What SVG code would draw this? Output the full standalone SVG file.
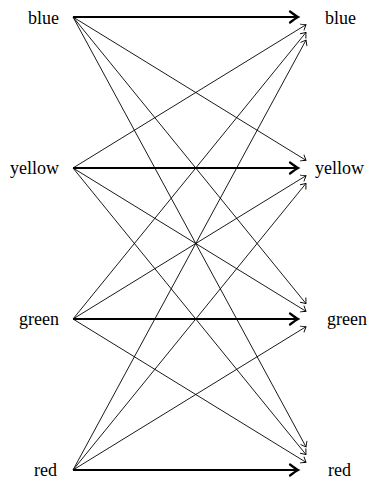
<svg xmlns="http://www.w3.org/2000/svg" width="368" height="484" viewBox="0 0 368 484">
<style>
.lbl{font-family:"Liberation Serif","Times New Roman",serif;font-size:18px;fill:#000}
.thin{stroke:#000;stroke-width:0.9;fill:none;marker-end:url(#tipThin)}
.thick{stroke:#000;stroke-width:2;fill:none;marker-end:url(#tipThick)}
</style>
<defs>
<marker id="tipThin" markerUnits="userSpaceOnUse" orient="auto" refX="0" refY="0" markerWidth="12" markerHeight="12" viewBox="-6 -6 12 12" overflow="visible">
<path d="M-4.5,-3.5 Q-1,-0.7 0,0 Q-1,0.7 -4.5,3.5" fill="none" stroke="#000" stroke-width="0.9" stroke-linecap="round"/>
</marker>
<marker id="tipThick" markerUnits="userSpaceOnUse" orient="auto" refX="0" refY="0" markerWidth="20" markerHeight="20" viewBox="-10 -10 20 20" overflow="visible">
<path d="M-8,-5.5 Q-2,-1 0,0 Q-2,1 -8,5.5" fill="none" stroke="#000" stroke-width="2.2" stroke-linecap="round"/>
</marker>
</defs>
<g id="connectors">
<line class="thick" x1="73" y1="17" x2="298" y2="17"/>
<line class="thick" x1="73" y1="168" x2="298" y2="168"/>
<line class="thick" x1="73" y1="319" x2="298" y2="319"/>
<line class="thick" x1="73" y1="470" x2="298" y2="470"/>
<line class="thin" x1="73" y1="17" x2="306" y2="160.3"/>
<line class="thin" x1="73" y1="17" x2="306" y2="303.6"/>
<line class="thin" x1="73" y1="17" x2="306" y2="446.9"/>
<line class="thin" x1="73" y1="168" x2="306" y2="24.7"/>
<line class="thin" x1="73" y1="168" x2="306" y2="311.3"/>
<line class="thin" x1="73" y1="168" x2="306" y2="454.6"/>
<line class="thin" x1="73" y1="319" x2="306" y2="32.4"/>
<line class="thin" x1="73" y1="319" x2="306" y2="175.7"/>
<line class="thin" x1="73" y1="319" x2="306" y2="462.3"/>
<line class="thin" x1="73" y1="470" x2="306" y2="40.1"/>
<line class="thin" x1="73" y1="470" x2="306" y2="183.4"/>
<line class="thin" x1="73" y1="470" x2="306" y2="326.7"/>
</g>
<g id="left-blue"><text class="lbl" x="59" y="23.5" text-anchor="end">blue</text></g>
<g id="left-yellow"><text class="lbl" x="59" y="174" text-anchor="end">yellow</text></g>
<g id="left-green"><text class="lbl" x="59" y="325" text-anchor="end">green</text></g>
<g id="left-red"><text class="lbl" x="57" y="476" text-anchor="end">red</text></g>
<g id="right-blue"><text class="lbl" x="325" y="23.5">blue</text></g>
<g id="right-yellow"><text class="lbl" x="315" y="174">yellow</text></g>
<g id="right-green"><text class="lbl" x="327" y="325">green</text></g>
<g id="right-red"><text class="lbl" x="328" y="476">red</text></g>
</svg>
